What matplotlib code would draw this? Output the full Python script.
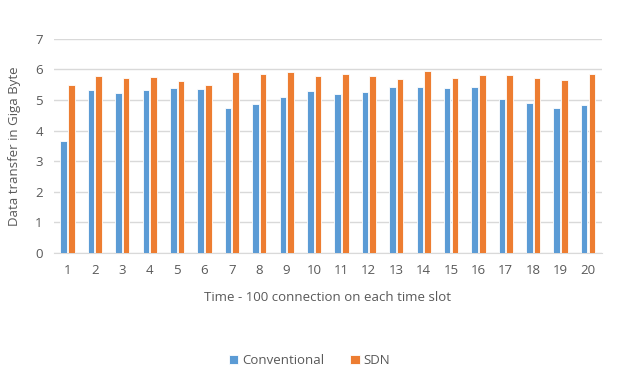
import numpy as np
import matplotlib.pyplot as plt

plt.rcParams['font.family'] = ['Open Sans', 'DejaVu Sans']

slots = [str(i) for i in range(1, 21)]
conventional = [3.65, 5.32, 5.23, 5.33, 5.38, 5.35, 4.73, 4.87, 5.10, 5.29,
                5.20, 5.26, 5.41, 5.44, 5.39, 5.41, 5.05, 4.90, 4.74, 4.84]
sdn = [5.49, 5.79, 5.73, 5.76, 5.62, 5.48, 5.92, 5.85, 5.92, 5.80,
       5.85, 5.79, 5.68, 5.96, 5.73, 5.83, 5.82, 5.71, 5.64, 5.84]

grey = '#595959'
fig = plt.figure(figsize=(6.19, 3.89), dpi=100)
ax = fig.add_axes([0.087, 0.35, 0.885, 0.55])

x = np.arange(len(slots))
w = 0.24
ax.bar(x - w / 2 - 0.02, conventional, w, color='#5b9bd5', edgecolor='white',
       linewidth=0.6, label='Conventional', zorder=3)
ax.bar(x + w / 2 + 0.02, sdn, w, color='#ed7d31', edgecolor='white',
       linewidth=0.6, label='SDN', zorder=3)

ax.set_xlim(-0.5, len(slots) - 0.5)
ax.set_ylim(0, 7)
ax.set_yticks(range(0, 8))
ax.set_xticks(x)
ax.set_xticklabels(slots)
ax.grid(axis='y', color='#d9d9d9', linewidth=1, zorder=0)
for s in ['top', 'right', 'left']:
    ax.spines[s].set_visible(False)
ax.spines['bottom'].set_color('#d9d9d9')
ax.tick_params(length=0, colors=grey, labelsize=9.5, pad=8)

ax.set_xlabel('Time - 100 connection on each time slot', color=grey, fontsize=9.5, labelpad=10)
ax.set_ylabel('Data transfer in Giga Byte', color=grey, fontsize=9.5, labelpad=10)

fig.legend(loc='center', bbox_to_anchor=(0.5, 0.072), ncol=2, frameon=False,
           fontsize=9.5, labelcolor=grey, handlelength=0.7, handleheight=0.7,
           columnspacing=2.0, handletextpad=0.3)

fig.savefig('out.png')
